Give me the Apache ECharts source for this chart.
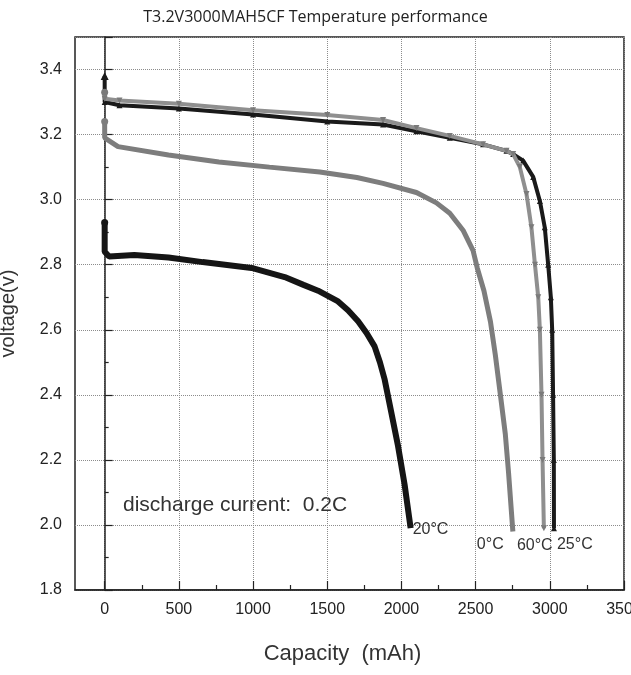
<!DOCTYPE html>
<html>
<head>
<meta charset="utf-8">
<script src="https://cdn.jsdelivr.net/npm/echarts@6/dist/echarts.min.js"></script>
<style>
  html, body { margin: 0; padding: 0; background: #fff; }
  #chart { width: 631px; height: 675px; }
</style>
</head>
<body>
<div id="chart"></div>
<script>
// ---- data ----
const titleText = 'T3.2V3000MAH5CF Temperature performance';
const xName = 'Capacity  (mAh)';
const yName = 'voltage(v)';
const noteText = 'discharge current:  0.2C';

const xTickLabels = [0, 500, 1000, 1500, 2000, 2500, 3000, 3500];
const xMajorTicks = [0, 500, 1000, 1500, 2000, 2500, 3000, 3500];
const xMinorTicks = [250, 750, 1250, 1750, 2250, 2750, 3250];

const seriesNames = ['20°C', '0°C', '60°C', '25°C'];

const cap20 = [0, 0, 30, 200, 430, 660, 990, 1213, 1340, 1438, 1573, 1640, 1708, 1765, 1819, 1855, 1887, 1932, 1977, 2021, 2062];
const volt20 = [2.93, 2.84, 2.825, 2.83, 2.822, 2.808, 2.79, 2.762, 2.738, 2.72, 2.687, 2.66, 2.626, 2.59, 2.549, 2.50, 2.447, 2.345, 2.243, 2.125, 1.99];

const cap0 = [0, 0, 90, 430, 770, 1110, 1450, 1700, 1876, 2101, 2236, 2326, 2415, 2483, 2511, 2556, 2600, 2633, 2667, 2700, 2722, 2751];
const volt0 = [3.24, 3.19, 3.163, 3.137, 3.116, 3.10, 3.085, 3.068, 3.05, 3.022, 2.99, 2.958, 2.906, 2.843, 2.79, 2.72, 2.625, 2.522, 2.40, 2.28, 2.16, 1.98];

const cap60 = [0, 0, 100, 500, 1000, 1500, 1876, 2101, 2326, 2550, 2708, 2753, 2798, 2843, 2876, 2900, 2922, 2933, 2944, 2951, 2960];
const volt60 = [3.33, 3.31, 3.305, 3.295, 3.275, 3.26, 3.245, 3.22, 3.196, 3.17, 3.15, 3.14, 3.10, 3.017, 2.915, 2.80, 2.70, 2.60, 2.40, 2.20, 1.99];

const cap25 = [0, 0, 100, 500, 1000, 1500, 1876, 2101, 2326, 2550, 2708, 2753, 2820, 2888, 2933, 2966, 2989, 3007, 3016, 3022, 3027, 3028];
const volt25 = [3.38, 3.30, 3.29, 3.28, 3.262, 3.24, 3.231, 3.21, 3.19, 3.17, 3.15, 3.14, 3.12, 3.07, 2.996, 2.915, 2.80, 2.70, 2.60, 2.40, 2.20, 1.99];

// ---- build ----
function pairs(xs, ys, firstSymbol, firstSize, restSymbol, restSize) {
  return xs.map(function (x, i) {
    if (i === 0) return { value: [x, ys[i]], symbol: firstSymbol, symbolSize: firstSize };
    return { value: [x, ys[i]], symbol: restSymbol, symbolSize: restSize };
  });
}

const labelFont = "'Liberation Sans', Arial, sans-serif";

const chart = echarts.init(document.getElementById('chart'), null, { renderer: 'canvas' });

function endLabel(text, offset) {
  return {
    show: true,
    formatter: text,
    distance: 0,
    offset: offset,
    fontFamily: labelFont,
    fontSize: 16,
    color: '#333'
  };
}

const option = {
  backgroundColor: '#ffffff',
  animation: false,
  title: {
    text: titleText,
    left: 'center',
    top: 4,
    padding: [5, 0, 5, 42],
    textStyle: { fontFamily: "'Open Sans', sans-serif", fontSize: 16, fontWeight: 'normal', color: '#222' }
  },
  grid: {
    left: 75, right: 7, top: 37, bottom: 85,
    outerBoundsMode: 'none',
    containLabel: false,
    show: true, borderColor: '#222', borderWidth: 1.5, backgroundColor: 'transparent'
  },
  xAxis: [
    {
      type: 'value', min: -200, max: 3500, position: 'bottom',
      name: xName, nameLocation: 'middle', nameGap: 53,
      nameTextStyle: { fontFamily: labelFont, fontSize: 22, color: '#333', padding: [0, 14, 0, 0] },
      axisLine: { show: true, lineStyle: { color: '#222', width: 1.5 } },
      axisTick: { show: true, inside: true, length: 9, customValues: xMajorTicks, lineStyle: { color: '#222', width: 1.2 } },
      axisLabel: {
        show: true, customValues: xTickLabels, margin: 12, fontFamily: labelFont, fontSize: 16, color: '#222',
        formatter: function (v) { return String(v); }
      },
      splitLine: { show: true, lineStyle: { type: 'dotted', color: '#8c8c8c', width: 1 } }
    },
    {
      type: 'value', min: -200, max: 3500, position: 'bottom',
      axisLine: { show: false },
      axisTick: { show: true, inside: true, length: 5, customValues: xMinorTicks, lineStyle: { color: '#222', width: 1.2 } },
      axisLabel: { show: false },
      splitLine: { show: false }
    }
  ],
  yAxis: {
    type: 'value', min: 1.8, max: 3.5, interval: 0.2,
    name: yName, nameLocation: 'middle', nameGap: 57,
    nameTextStyle: { fontFamily: labelFont, fontSize: 20, color: '#333' },
    axisLine: { show: true, lineStyle: { color: '#222', width: 1.5 } },
    axisTick: { show: true, inside: true, length: 8, lineStyle: { color: '#222', width: 1.2 } },
    minorTick: { show: true, splitNumber: 2, length: 4, lineStyle: { color: '#222', width: 1.2 } },
    axisLabel: {
      margin: 13, fontFamily: labelFont, fontSize: 16, color: '#222',
      formatter: function (v) { return v > 3.45 ? '' : v.toFixed(1); }
    },
    splitLine: { show: true, lineStyle: { type: 'dotted', color: '#8c8c8c', width: 1 } }
  },
  graphic: [
    {
      type: 'text', left: 123, top: 495,
      style: { text: noteText, fontFamily: labelFont, fontSize: 21, fill: '#333' }
    }
  ],
  series: [
    {
      name: seriesNames[0], type: 'line', xAxisIndex: 0,
      data: pairs(cap20, volt20, 'circle', 7, 'none', 0),
      showAllSymbol: true,
      lineStyle: { color: '#151515', width: 6 },
      itemStyle: { color: '#151515' },
      endLabel: endLabel(seriesNames[0], [2, 1]),
      z: 5
    },
    {
      name: seriesNames[1], type: 'line', xAxisIndex: 0,
      data: pairs(cap0, volt0, 'circle', 7, 'none', 0),
      showAllSymbol: true,
      lineStyle: { color: '#7d7d7d', width: 5 },
      itemStyle: { color: '#7d7d7d' },
      endLabel: endLabel(seriesNames[1], [-36, 13]),
      z: 4
    },
    {
      name: seriesNames[3], type: 'line', xAxisIndex: 0,
      data: pairs(cap25, volt25, 'triangle', 8, 'triangle', 6),
      showAllSymbol: true,
      lineStyle: { color: '#1a1a1a', width: 4 },
      itemStyle: { color: '#1a1a1a' },
      endLabel: endLabel(seriesNames[3], [3, 16]),
      z: 3
    },
    {
      name: seriesNames[2], type: 'line', xAxisIndex: 0,
      data: pairs(cap60, volt60, 'circle', 7, 'path://M0,0L10,0L5,9Z', 6),
      showAllSymbol: true,
      lineStyle: { color: '#8f8f8f', width: 4 },
      itemStyle: { color: '#7a7a7a' },
      endLabel: endLabel(seriesNames[2], [-27, 17]),
      z: 4
    }
  ]
};
chart.setOption(option);
</script>
</body>
</html>
